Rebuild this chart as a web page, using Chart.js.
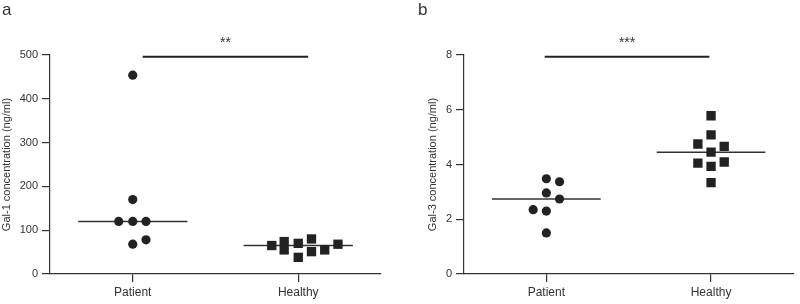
<!DOCTYPE html>
<html>
<head>
<meta charset="utf-8">
<script src="https://cdn.jsdelivr.net/npm/chart.js@4"></script>
<style>
  html, body { margin: 0; padding: 0; background: #fff; }
  .wrap { position: absolute; top: 0; width: 400px; height: 304px; }
  #wrapA { left: 0; }
  #wrapB { left: 400px; }
</style>
</head>
<body>
<div class="wrap" id="wrapA"><canvas id="chartA" width="400" height="304"></canvas></div>
<div class="wrap" id="wrapB"><canvas id="chartB" width="400" height="304"></canvas></div>
<script>
// ── Data ──
const categories = ['Patient', 'Healthy'];

// panel a: Gal-1 (ng/ml)
const gal1Patient       = [454, 170, 120, 120, 120, 68, 78];
const gal1PatientJitter = [0, 0, -0.085, 0, 0.08, 0, 0.08];
const gal1Healthy       = [65, 74, 55, 70, 38, 80, 51, 55, 68];
const gal1HealthyJitter = [-0.16, -0.085, -0.085, 0, 0, 0.08, 0.08, 0.16, 0.24];
const gal1Medians       = [120, 65];
const gal1Ticks         = [0, 100, 200, 300, 400, 500];

// panel b: Gal-3 (ng/ml)
const gal3Patient       = [2.35, 3.48, 2.96, 2.30, 1.50, 3.37, 2.74];
const gal3PatientJitter = [-0.08, 0, 0, 0, 0, 0.08, 0.08];
const gal3Healthy       = [5.78, 5.08, 4.45, 3.93, 3.34, 4.75, 4.05, 4.66, 4.09];
const gal3HealthyJitter = [0, 0, 0, 0, 0, -0.08, -0.08, 0.08, 0.08];
const gal3Medians       = [2.74, 4.45];
const gal3Ticks         = [0, 2, 4, 6, 8];

// significance bars: [from category pos, to category pos, y value], star text
const gal1Sig = { from: 1.06, to: 2.06, y: 496, stars: '**' };
const gal3Sig = { from: 0.99, to: 1.99, y: 7.94, stars: '***' };

const INK = '#222';
const AXIS = '#333';
const FONT = "'Liberation Sans', Arial, sans-serif";
const MEDIAN_HALF = 0.33;

function toPoints(values, jitter, catIndex) {
    return values.map((v, i) => ({ x: catIndex + 1 + jitter[i], y: v }));
}

// draws the stars above the bar and the panel letter
const annotatePlugin = {
    id: 'annotate',
    afterDatasetsDraw(chart, args, opts) {
        const ctx = chart.ctx;
        const xs = chart.scales.x, ys = chart.scales.y;
        ctx.save();
        ctx.fillStyle = AXIS;
        ctx.textAlign = 'center';
        ctx.textBaseline = 'alphabetic';
        ctx.font = '14px ' + FONT;
        const mx = xs.getPixelForValue((opts.sig.from + opts.sig.to) / 2);
        ctx.fillText(opts.sig.stars, mx, ys.getPixelForValue(opts.sig.y) - 10);
        ctx.textAlign = 'left';
        ctx.font = '17px ' + FONT;
        ctx.fillText(opts.letter, opts.letterX, 15);
        ctx.restore();
    }
};

function makeChart(id, cfg) {
    const sig = cfg.sig;
    new Chart(document.getElementById(id), {
        type: 'scatter',
        data: {
            datasets: [
                {   // patients: circles
                    data: toPoints(cfg.patient, cfg.patientJitter, 0),
                    pointStyle: 'circle', pointRadius: 4.6,
                    backgroundColor: INK, borderColor: INK, borderWidth: 0
                },
                {   // healthy: squares
                    data: toPoints(cfg.healthy, cfg.healthyJitter, 1),
                    pointStyle: 'rect', pointRadius: 6.6,
                    backgroundColor: INK, borderColor: INK, borderWidth: 0
                },
                ...cfg.medians.map((m, i) => ({
                    type: 'line',
                    data: [{ x: i + 1 - MEDIAN_HALF, y: m }, { x: i + 1 + MEDIAN_HALF, y: m }],
                    borderColor: AXIS, borderWidth: 1.5, pointRadius: 0, order: 5
                })),
                {   // significance bar
                    type: 'line',
                    data: [{ x: sig.from, y: sig.y }, { x: sig.to, y: sig.y }],
                    borderColor: INK, borderWidth: 2, pointRadius: 0, clip: false
                }
            ]
        },
        options: {
            responsive: false,
            animation: false,
            layout: { padding: { top: 55, right: cfg.padRight, bottom: 0, left: cfg.padLeft } },
            plugins: {
                legend: { display: false },
                tooltip: { enabled: false },
                annotate: { sig: sig, letter: cfg.letter, letterX: cfg.letterX }
            },
            scales: {
                x: {
                    type: 'linear', min: 0.5, max: 2.5,
                    afterBuildTicks: s => { s.ticks = categories.map((c, i) => ({ value: i + 1 })); },
                    afterFit: s => { s.height = 30; },
                    border: { display: true, color: AXIS, width: 1.2 },
                    grid: { drawOnChartArea: false, drawTicks: true, tickLength: 8, color: AXIS, lineWidth: 1.2 },
                    ticks: {
                        callback: v => categories[v - 1], autoSkip: false, maxRotation: 0,
                        color: AXIS, padding: 3, font: { family: FONT, size: 12 }
                    }
                },
                y: {
                    min: 0, max: cfg.yTicks[cfg.yTicks.length - 1],
                    afterBuildTicks: s => { s.ticks = cfg.yTicks.map(v => ({ value: v })); },
                    afterFit: s => { s.width = cfg.yWidth; },
                    border: { display: true, color: AXIS, width: 1.2 },
                    grid: { drawOnChartArea: false, drawTicks: true, tickLength: 8, color: AXIS, lineWidth: 1.2 },
                    ticks: { color: AXIS, padding: 4, font: { family: FONT, size: 11 } },
                    title: {
                        display: true, text: cfg.yTitle, color: AXIS, padding: 0,
                        font: { family: FONT, size: 11 }
                    }
                }
            }
        },
        plugins: [annotatePlugin]
    });
}

makeChart('chartA', {
    patient: gal1Patient, patientJitter: gal1PatientJitter,
    healthy: gal1Healthy, healthyJitter: gal1HealthyJitter,
    medians: gal1Medians, yTicks: gal1Ticks, sig: gal1Sig,
    yTitle: 'Gal-1 concentration (ng/ml)', letter: 'a', letterX: 2,
    padLeft: 0, yWidth: 50, padRight: 19
});

makeChart('chartB', {
    patient: gal3Patient, patientJitter: gal3PatientJitter,
    healthy: gal3Healthy, healthyJitter: gal3HealthyJitter,
    medians: gal3Medians, yTicks: gal3Ticks, sig: gal3Sig,
    yTitle: 'Gal-3 concentration (ng/ml)', letter: 'b', letterX: 18,
    padLeft: 26, yWidth: 38, padRight: 5
});
</script>
</body>
</html>
